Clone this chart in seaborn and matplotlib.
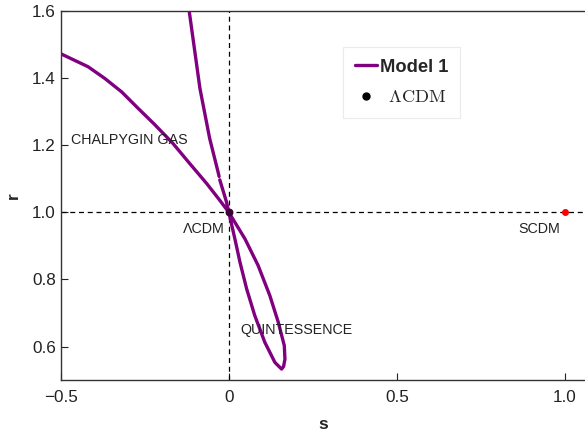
import matplotlib
matplotlib.use("Agg")
import matplotlib.pyplot as plt
import seaborn as sns
import pandas as pd
from matplotlib.lines import Line2D

# Statefinder trajectory (s, r) in drawing order; "part" marks the small break
s_vals = [-0.118, -0.086, -0.057, -0.032, -0.029,
          -0.027, -0.007, 0.0, 0.018, 0.033, 0.053, 0.077, 0.107, 0.137,
          0.157, 0.163, 0.167, 0.165, 0.147, 0.122, 0.087, 0.048, 0.0,
          -0.027, -0.066, -0.116, -0.166, -0.222, -0.270, -0.319, -0.369,
          -0.419, -0.503]
r_vals = [1.600, 1.369, 1.220, 1.120, 1.107,
          1.097, 1.031, 1.000, 0.921, 0.852, 0.772, 0.693, 0.613, 0.553,
          0.533, 0.541, 0.563, 0.603, 0.673, 0.752, 0.842, 0.921, 1.000,
          1.036, 1.086, 1.145, 1.205, 1.263, 1.310, 1.359, 1.399,
          1.434, 1.474]
part = [0] * 5 + [1] * 28

lcdm_point = (0.0, 1.0)
scdm_point = (1.0, 1.0)

x_ticks = [-0.5, 0.0, 0.5, 1.0]
x_tick_labels = ["\u22120.5", "0", "0.5", "1.0"]
y_ticks = [0.6, 0.8, 1.0, 1.2, 1.4, 1.6]
y_tick_labels = ["0.6", "0.8", "1.0", "1.2", "1.4", "1.6"]

sns.set_style("ticks")
plt.rcParams["font.family"] = ["Liberation Sans", "DejaVu Sans"]
plt.rcParams["mathtext.fontset"] = "cm"

fig = plt.figure(figsize=(5.85, 4.41), dpi=100)
ax = fig.add_axes([0.104, 0.138, 0.896, 0.837])

purple = "#800080"
df = pd.DataFrame({"s": s_vals, "r": r_vals, "part": part})
sns.lineplot(data=df, x="s", y="r", units="part", sort=False, estimator=None,
             color=purple, lw=2.4, ax=ax, zorder=3)

ax.axhline(1.0, color="black", lw=0.9, ls=(0, (4, 3)), zorder=1)
ax.axvline(0.0, color="black", lw=0.9, ls=(0, (4, 3)), zorder=1)

ax.scatter([lcdm_point[0]], [lcdm_point[1]], s=22, color="#3a0038", zorder=5)
ax.scatter([scdm_point[0]], [scdm_point[1]], s=16, color="red", zorder=5)

fs = 10.3
ax.text(-0.47, 1.215, "CHALPYGIN GAS", fontsize=fs, va="center", ha="left", color="#222222")
ax.text(-0.012, 0.95, "\u039bCDM", fontsize=fs, va="center", ha="right", color="#222222")
ax.text(0.033, 0.648, "QUINTESSENCE", fontsize=fs, va="center", ha="left", color="#222222")
ax.text(0.925, 0.95, "SCDM", fontsize=fs, va="center", ha="center", color="#222222")

ax.set_xlim(-0.5, 1.06)
ax.set_ylim(0.5, 1.6)
ax.set_xticks(x_ticks)
ax.set_xticklabels(x_tick_labels)
ax.set_yticks(y_ticks)
ax.set_yticklabels(y_tick_labels)
ax.tick_params(direction="in", length=5, width=0.8, labelsize=12.3, colors="#222222")
ax.tick_params(axis="x", pad=7)
ax.set_xlabel("s", fontsize=12.5, fontweight="bold", labelpad=9)
ax.set_ylabel("r", fontsize=12.5, fontweight="bold", labelpad=8)
ax.spines["right"].set_visible(False)
for sp in ["left", "bottom", "top"]:
    ax.spines[sp].set_color("#333333")
    ax.spines[sp].set_linewidth(1.0)

handles = [Line2D([0], [0], color=purple, lw=2.4),
           Line2D([0], [0], marker="o", color="black", ls="none", markersize=5)]
leg = ax.legend(handles, ["Model 1", r"$\;\;\Lambda\mathrm{CDM}$"],
                loc="upper left", bbox_to_anchor=(0.538, 0.903), frameon=True,
                fancybox=False, edgecolor="#e6e6e6", fontsize=13.2,
                handlelength=1.2, handletextpad=0.15, borderpad=0.65, labelspacing=0.75,
                borderaxespad=0.0)
leg.get_frame().set_linewidth(0.8)
leg.get_texts()[0].set_fontweight("bold")

fig.savefig("out.png", dpi=100)
